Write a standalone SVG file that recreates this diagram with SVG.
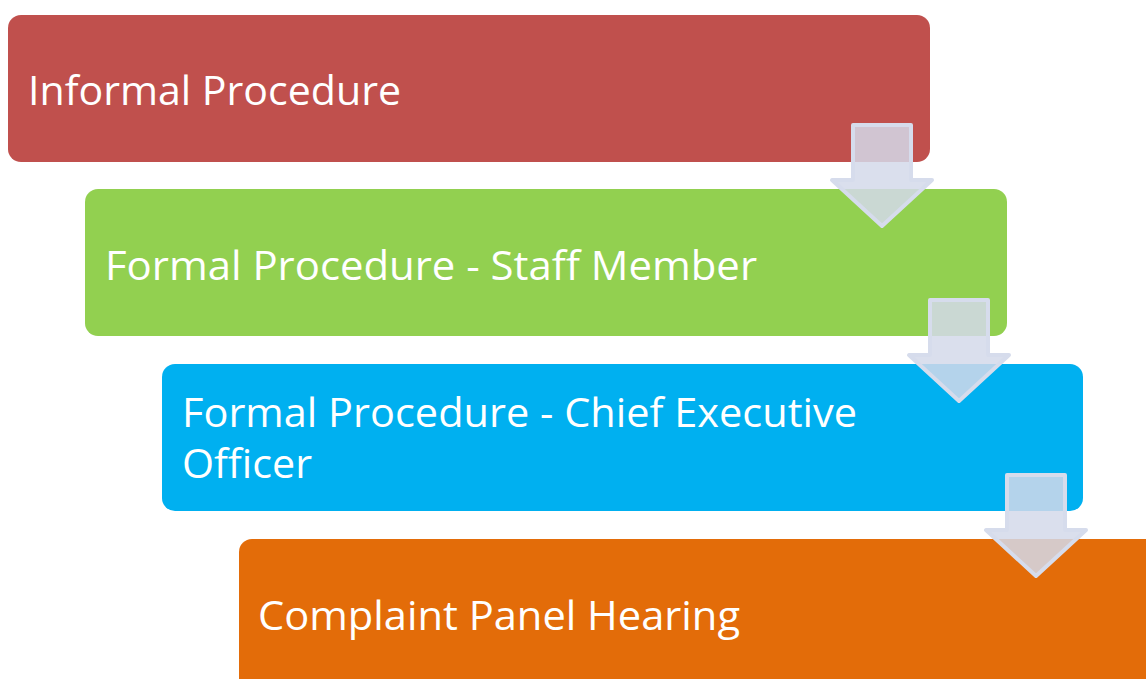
<svg xmlns="http://www.w3.org/2000/svg" width="1146" height="679" viewBox="0 0 1146 679">
  <style>
    .box { stroke: none; }
    .label { font-family: "Open Sans", "Noto Sans", "Liberation Sans", sans-serif; font-size: 41px; fill: #ffffff; }
    .arrow { fill: #d3d9ea; fill-opacity: 0.85; stroke: #d6dcec; stroke-width: 4; stroke-linejoin: round; }
  </style>
  <rect width="1146" height="679" fill="#ffffff"/>

  <g id="step-informal">
    <rect class="box" x="8" y="15" width="922" height="147" rx="13" fill="#c0504d"/>
    <text class="label" x="28" y="105" textLength="373" lengthAdjust="spacingAndGlyphs">Informal Procedure</text>
  </g>

  <g id="step-staff">
    <rect class="box" x="85" y="189" width="922" height="147" rx="13" fill="#92d050"/>
    <text class="label" x="105" y="280" textLength="652" lengthAdjust="spacingAndGlyphs">Formal Procedure - Staff Member</text>
  </g>

  <g id="step-ceo">
    <rect class="box" x="162" y="364" width="921" height="147" rx="13" fill="#00b0f0"/>
    <text class="label" x="182" y="427" textLength="675" lengthAdjust="spacingAndGlyphs">Formal Procedure - Chief Executive</text>
    <text class="label" x="182" y="478" textLength="130" lengthAdjust="spacingAndGlyphs">Officer</text>
  </g>

  <g id="step-panel">
    <rect class="box" x="239" y="539" width="922" height="160" rx="13" fill="#e36c09"/>
    <text class="label" x="258" y="630" textLength="482" lengthAdjust="spacingAndGlyphs">Complaint Panel Hearing</text>
  </g>

  <g id="connectors">
    <path class="arrow" d="M853 125 H911 V180 H932 L882 226 L832 180 H853 Z"/>
    <path class="arrow" d="M930 300 H988 V355 H1009 L959 401 L909 355 H930 Z"/>
    <path class="arrow" d="M1007 475 H1065 V530 H1086 L1036 576 L986 530 H1007 Z"/>
  </g>
</svg>
